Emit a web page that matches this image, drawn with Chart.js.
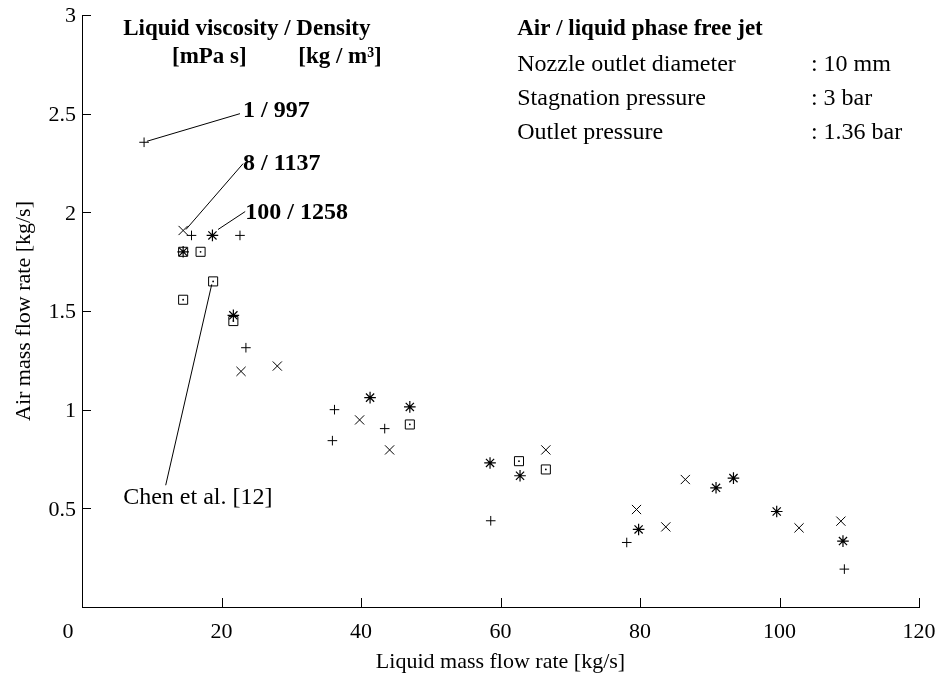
<!DOCTYPE html>
<html>
<head>
<meta charset="utf-8">
<title>Air / liquid phase free jet</title>
<script src="https://cdn.jsdelivr.net/npm/chart.js@4/dist/chart.umd.min.js"></script>
<style>
  html, body { margin: 0; padding: 0; background: #ffffff; }
  #wrap { width: 936px; height: 676px; }
</style>
</head>
<body>
<div id="wrap"><canvas id="c" width="936" height="676"></canvas></div>
<script>
// Axis ticks
const xTicks = [0, 20, 40, 60, 80, 100, 120];
const yTicks = [0, 0.5, 1, 1.5, 2, 2.5, 3];

// Measured points: [liquid mass flow rate kg/s, air mass flow rate kg/s]
// 1 mPa s / 997 kg/m3
const liquid1 = [
  [8.9, 2.355], [15.7, 1.883], [22.65, 1.883], [23.5, 1.314],
  [36.2, 1.0], [35.9, 0.843], [43.4, 0.904], [58.6, 0.437],
  [78.1, 0.327], [109.3, 0.192]
];
// 8 mPa s / 1137 kg/m3
const liquid8 = [
  [14.5, 1.908], [22.8, 1.194], [28.0, 1.221], [39.8, 0.948],
  [44.1, 0.796], [66.5, 0.796], [79.5, 0.494], [83.7, 0.406],
  [86.5, 0.646], [102.8, 0.401], [108.8, 0.435]
];
// 100 mPa s / 1258 kg/m3
const liquid100 = [
  [18.7, 1.883], [14.5, 1.80], [21.7, 1.478], [41.3, 1.061],
  [47.0, 1.014], [58.5, 0.730], [62.8, 0.665], [79.8, 0.393],
  [90.9, 0.604], [93.4, 0.653], [99.6, 0.484], [109.1, 0.334]
];
// Chen et al. [12]
const chen = [
  [14.5, 1.80], [17.0, 1.80], [18.8, 1.65], [14.5, 1.557],
  [21.7, 1.449], [47.0, 0.925], [62.65, 0.739], [66.5, 0.697]
];

const FONT = '"Liberation Serif", "Times New Roman", serif';

// Free text placed in data coordinates (x, y)
const notes = [
  { text: 'Liquid viscosity / Density', at: [5.9, 2.93], bold: true, size: 23 },
  { text: '[mPa s]', at: [12.9, 2.788], bold: true, size: 23 },
  { text: '[kg / m\u00b3]', at: [31.0, 2.788], bold: true, size: 23 },
  { text: '1 / 997', at: [23.1, 2.515], bold: true, size: 24 },
  { text: '8 / 1137', at: [23.1, 2.247], bold: true, size: 24 },
  { text: '100 / 1258', at: [23.4, 2.0], bold: true, size: 24 },
  { text: 'Chen et al. [12]', at: [5.9, 0.555], size: 24 },
  { text: 'Air / liquid phase free jet', at: [62.4, 2.93], bold: true, size: 23 },
  { text: 'Nozzle outlet diameter', at: [62.4, 2.748], size: 24 },
  { text: ': 10 mm', at: [104.5, 2.748], size: 24 },
  { text: 'Stagnation pressure', at: [62.4, 2.576], size: 24 },
  { text: ': 3 bar', at: [104.5, 2.576], size: 24 },
  { text: 'Outlet pressure', at: [62.4, 2.404], size: 24 },
  { text: ': 1.36 bar', at: [104.5, 2.404], size: 24 }
];

// Leader lines from a series marker to its label
const leaders = [
  { from: [9.3, 2.36], to: [22.65, 2.50] },
  { from: [14.9, 1.913], to: [23.1, 2.247] },
  { from: [19.5, 1.913], to: [23.4, 2.004] },
  { from: [18.6, 1.635], to: [12.0, 0.617] }
];

const toXY = arr => arr.map(([x, y]) => ({ x, y }));

const TICK_PAD_X = 12;
const TICK_FONT = 22;

const decorations = {
  id: 'decorations',
  afterDraw(chart) {
    const { ctx, chartArea: a, scales: { x, y } } = chart;
    ctx.save();
    ctx.strokeStyle = '#000';
    ctx.lineWidth = 1;
    ctx.beginPath();
    // inward tick marks
    yTicks.forEach(v => {
      const py = Math.round(y.getPixelForValue(v)) + 0.5;
      ctx.moveTo(a.left, py);
      ctx.lineTo(a.left + 9, py);
    });
    xTicks.forEach(v => {
      const px = Math.round(x.getPixelForValue(v)) + 0.5;
      ctx.moveTo(px, a.bottom);
      ctx.lineTo(px, a.bottom - 9);
    });
    // leader lines
    leaders.forEach(l => {
      ctx.moveTo(x.getPixelForValue(l.from[0]), y.getPixelForValue(l.from[1]));
      ctx.lineTo(x.getPixelForValue(l.to[0]), y.getPixelForValue(l.to[1]));
    });
    ctx.stroke();

    ctx.fillStyle = '#000';
    ctx.textAlign = 'left';
    ctx.textBaseline = 'middle';
    notes.forEach(n => {
      ctx.font = (n.bold ? 'bold ' : '') + n.size + 'px ' + FONT;
      ctx.fillText(n.text, x.getPixelForValue(n.at[0]), y.getPixelForValue(n.at[1]));
    });

    // the x-axis origin label sits left of the axis corner
    ctx.font = TICK_FONT + 'px ' + FONT;
    ctx.textAlign = 'center';
    ctx.fillText('0', x.getPixelForValue(0) - 14, x.top + TICK_PAD_X + TICK_FONT * 0.6);
    ctx.restore();
  }
};

new Chart(document.getElementById('c'), {
  type: 'scatter',
  data: {
    datasets: [
      { label: '1 / 997', data: toXY(liquid1), pointStyle: 'cross', pointRadius: 4.8,
        borderColor: '#000', borderWidth: 1, backgroundColor: '#000' },
      { label: '8 / 1137', data: toXY(liquid8), pointStyle: 'crossRot', pointRadius: 6.5,
        borderColor: '#000', borderWidth: 1, backgroundColor: '#000' },
      { label: '100 / 1258', data: toXY(liquid100), pointStyle: 'star', pointRadius: 5.8,
        borderColor: '#000', borderWidth: 1.2, backgroundColor: '#000' },
      { label: 'Chen et al. [12]', data: toXY(chen), pointStyle: 'rect', pointRadius: 6.4,
        borderColor: '#000', borderWidth: 1, backgroundColor: 'rgba(0,0,0,0)' },
      { label: 'Chen et al. [12] centre', data: toXY(chen), pointStyle: 'circle', pointRadius: 0.9,
        borderWidth: 0, backgroundColor: '#000' }
    ]
  },
  options: {
    responsive: false,
    animation: false,
    devicePixelRatio: 1,
    layout: { padding: { left: 0, right: 17, top: 15, bottom: 0 } },
    plugins: { legend: { display: false }, tooltip: { enabled: false } },
    scales: {
      x: {
        type: 'linear', min: 0, max: 120,
        afterBuildTicks: s => { s.ticks = xTicks.map(v => ({ value: v })); },
        afterFit: s => { s.height = 69; s.paddingLeft = 0; s.paddingRight = 0; },
        grid: { display: false, drawTicks: false },
        border: { display: true, color: '#000', width: 1 },
        ticks: {
          color: '#000', padding: TICK_PAD_X, maxRotation: 0, autoSkip: false,
          font: { family: FONT, size: TICK_FONT, lineHeight: 1.2 },
          callback: v => (v === 0 ? '' : String(v))
        },
        title: {
          display: true, text: 'Liquid mass flow rate [kg/s]', color: '#000',
          font: { family: FONT, size: 22, lineHeight: 1.2 }, padding: { top: 0, bottom: 1 }
        }
      },
      y: {
        type: 'linear', min: 0, max: 3,
        afterBuildTicks: s => { s.ticks = yTicks.map(v => ({ value: v })); },
        afterFit: s => { s.width = 82; s.paddingTop = 0; s.paddingBottom = 0; },
        grid: { display: false, drawTicks: false },
        border: { display: true, color: '#000', width: 1 },
        ticks: {
          color: '#000', padding: 6, autoSkip: false, labelOffset: 1.5,
          font: { family: FONT, size: TICK_FONT, lineHeight: 1.2 },
          callback: v => (v === 0 ? '' : String(v))
        },
        title: {
          display: true, text: 'Air mass flow rate [kg/s]', color: '#000',
          font: { family: FONT, size: 22, lineHeight: 1.2 }, padding: { top: 11, bottom: 0 }
        }
      }
    }
  },
  plugins: [decorations]
});
</script>
</body>
</html>
